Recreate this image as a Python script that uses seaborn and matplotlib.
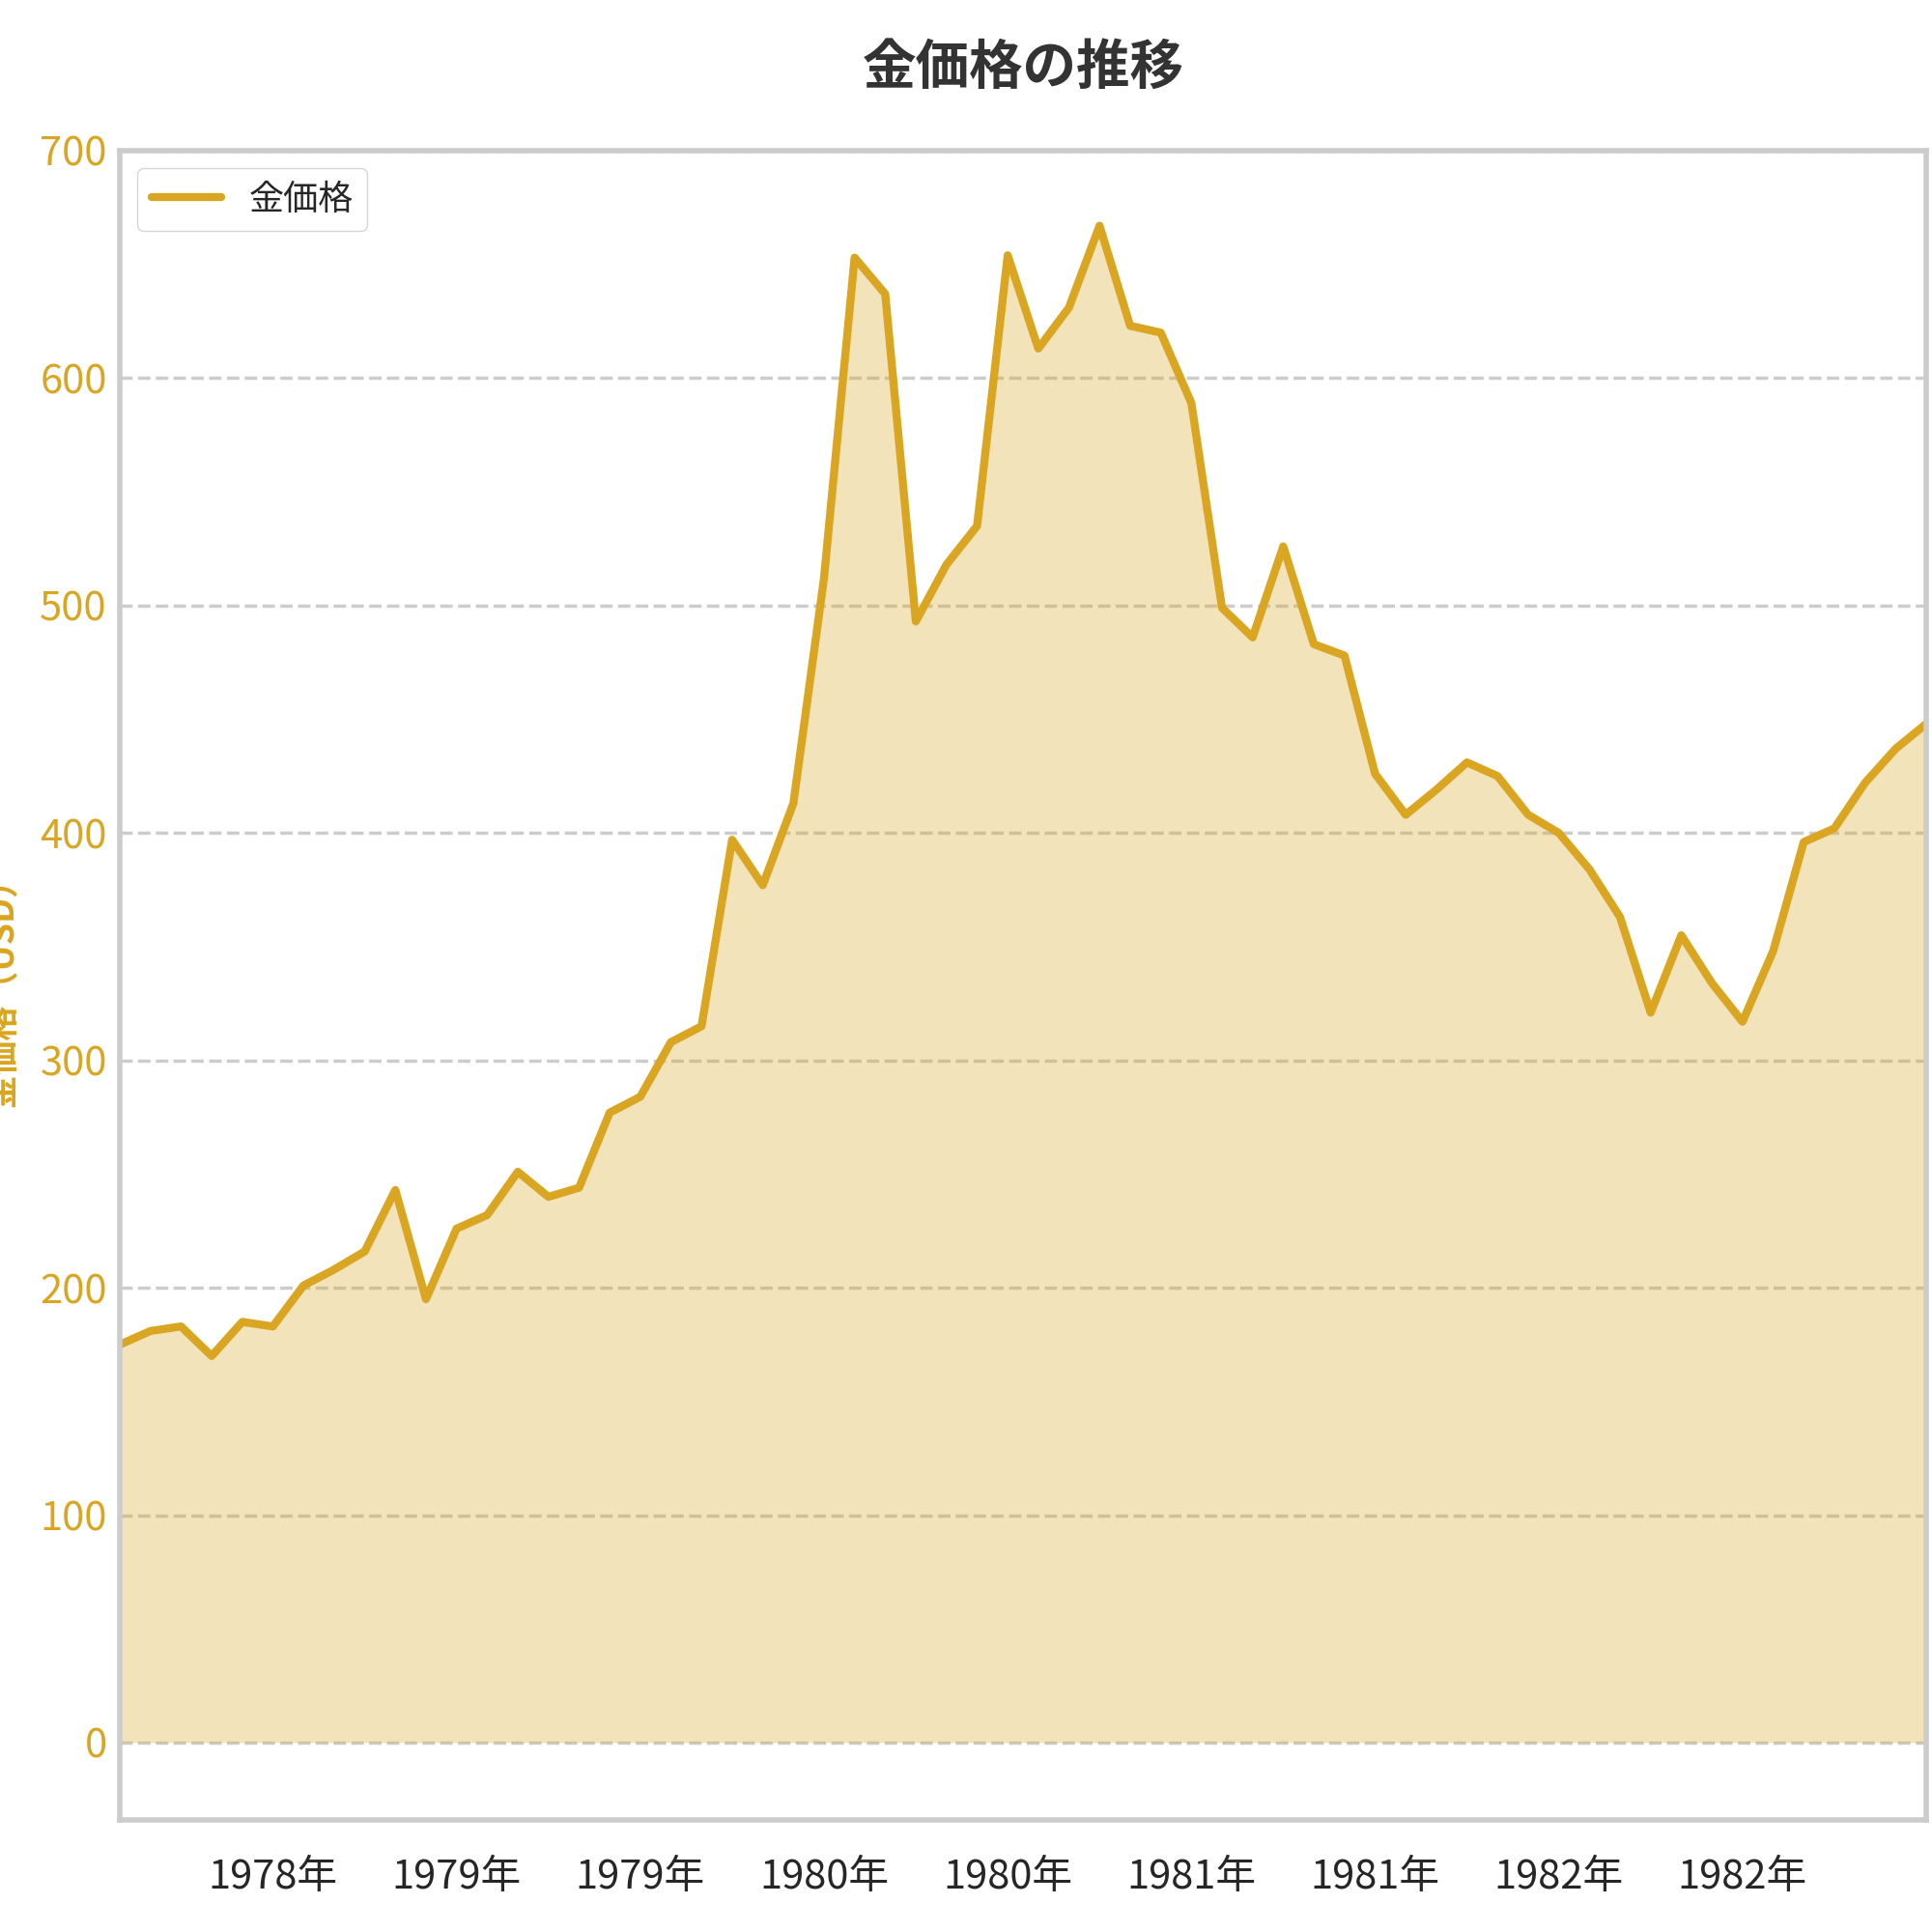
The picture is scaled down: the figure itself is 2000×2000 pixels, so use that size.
import numpy as np
import pandas as pd
import seaborn as sns
import matplotlib.pyplot as plt

# Monthly gold prices (USD)
prices = [175, 181, 183, 170, 185, 183, 201, 208, 216, 243,
          195, 226, 232, 251, 240, 244, 277, 284, 308, 315,
          397, 377, 413, 512, 653, 637, 493, 518, 535, 654,
          613, 631, 667, 623, 620, 589, 499, 486, 526, 483,
          478, 426, 408, 419, 431, 425, 408, 400, 384, 363,
          321, 355, 334, 317, 348, 396, 402, 422, 437, 448]
tick_pos = [5, 11, 17, 23, 29, 35, 41, 47, 53]
tick_labels = ["1978年", "1979年", "1979年", "1980年", "1980年",
               "1981年", "1981年", "1982年", "1982年"]

df = pd.DataFrame({"idx": np.arange(len(prices)), "price": prices})

sns.set_theme(style="white")
plt.rcParams['font.family'] = ['Noto Sans CJK JP', 'DejaVu Sans']

gold = "#DAA520"
fig = plt.figure(figsize=(20, 20), dpi=100)
ax = fig.add_axes([0.062, 0.058, 0.935, 0.864])

ax.fill_between(df["idx"], df["price"], color=gold, alpha=0.3, linewidth=0)
sns.lineplot(data=df, x="idx", y="price", ax=ax, color=gold, linewidth=6, label="金価格")

ax.set_xlim(0, len(prices) - 1)
ax.set_ylim(-34, 700)
ax.set_yticks(range(0, 701, 100))
ax.tick_params(axis="y", labelcolor=gold, labelsize=30)
ax.set_xticks(tick_pos)
ax.set_xticklabels(tick_labels, fontsize=30)
ax.tick_params(axis="x", pad=22)
ax.yaxis.grid(True, linestyle="--", color="#cccccc", linewidth=2.5)
ax.set_xlabel("")
ax.set_ylabel("金価格（USD）", color=gold, fontsize=26, fontweight="bold", labelpad=14)
ax.set_title("金価格の推移", fontsize=40, fontweight="bold", pad=50, color="#333333")
for s in ax.spines.values():
    s.set_color("#cccccc")
    s.set_linewidth(4)
ax.legend(loc="upper left", fontsize=26, frameon=True, edgecolor="#cccccc")

fig.savefig("out.png", dpi=100)
